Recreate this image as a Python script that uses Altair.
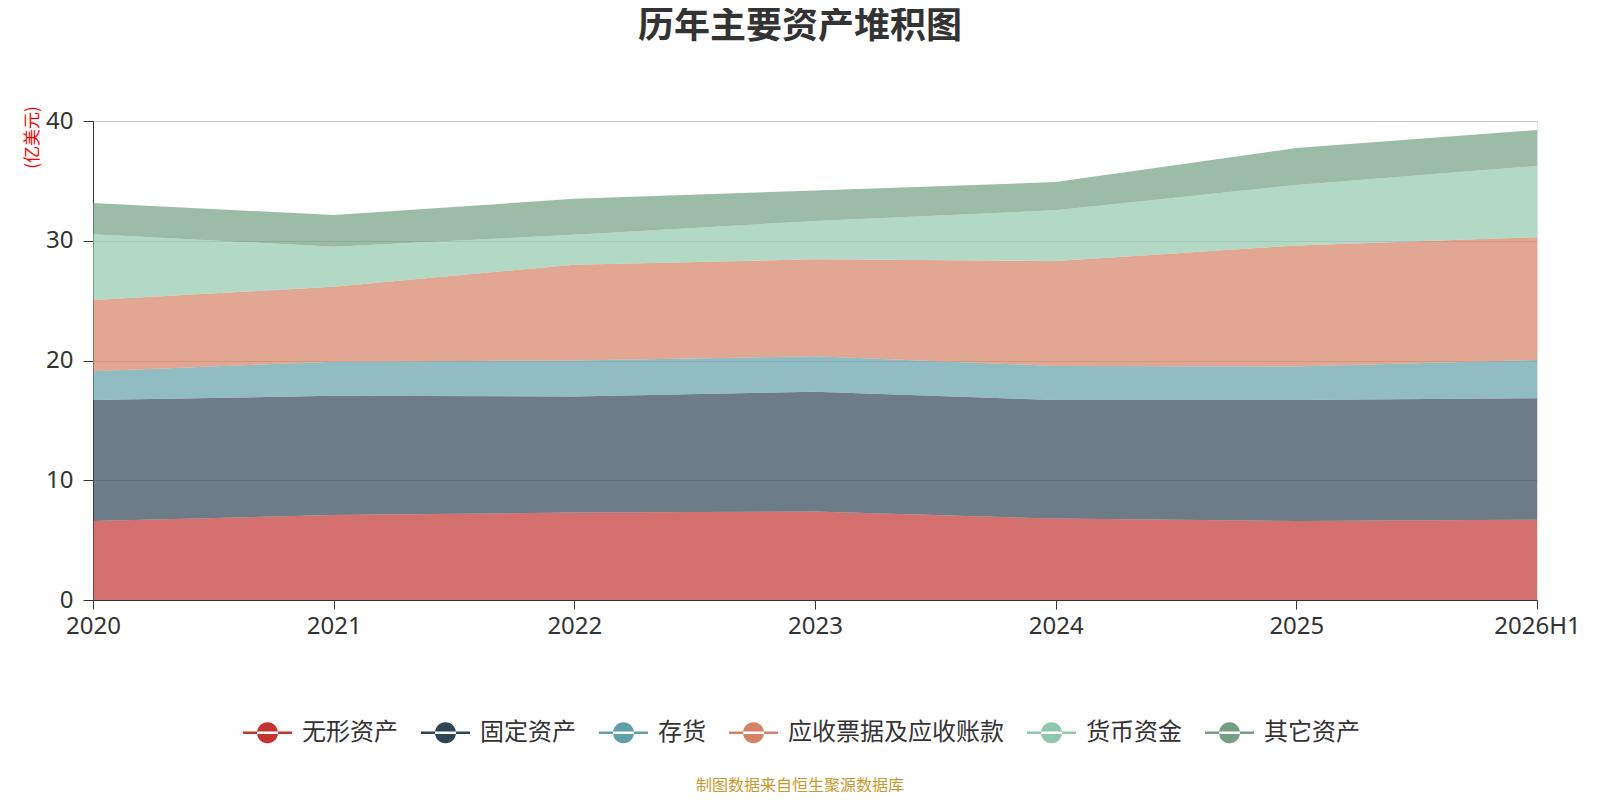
import altair as alt
import pandas as pd

YEARS = ["2020", "2021", "2022", "2023", "2024", "2025", "2026H1"]
SERIES = ["无形资产", "固定资产", "存货", "应收票据及应收账款", "货币资金", "其它资产"]
COLORS = ["#c23531", "#2f4554", "#61a0a8", "#d48265", "#91c7ae", "#749f83"]

INTANGIBLE = [6.6, 7.1, 7.3, 7.4, 6.8, 6.6, 6.7]
FIXED = [10.1, 9.95, 9.7, 10.0, 9.9, 10.1, 10.15]
INVENTORY = [2.4, 2.85, 3.0, 2.95, 2.85, 2.8, 3.2]
RECEIVABLE = [5.95, 6.25, 8.0, 8.1, 8.75, 10.1, 10.25]
CASH = [5.5, 3.35, 2.5, 3.2, 4.25, 5.05, 5.95]
OTHER = [2.6, 2.65, 3.0, 2.55, 2.35, 3.1, 3.0]

TITLE = "历年主要资产堆积图"
UNIT = "(亿美元)"
SOURCE = ["制图数据来自恒生聚源数据库"]

values = [INTANGIBLE, FIXED, INVENTORY, RECEIVABLE, CASH, OTHER]
rows = []
for si, (name, vals) in enumerate(zip(SERIES, values)):
    for year, v in zip(YEARS, vals):
        rows.append({"year": year, "series": name, "value": v, "order": si})
df = pd.DataFrame(rows)

FONT = "Noto Sans CJK SC"
NUMFONT = "Noto Sans"
W, H = 1444, 479

# legend symbol: circle with a horizontal line through it
SYMBOL = ("M-1,-0.05 L1,-0.05 L1,0.05 L-1,0.05 Z "
          "M-0.43,0 A0.43,0.43 0 1,0 0.43,0 A0.43,0.43 0 1,0 -0.43,0 Z")

area = alt.Chart(df).mark_area(opacity=0.7).encode(
    x=alt.X("year:N", sort=YEARS,
            scale=alt.Scale(type="point", padding=0),
            axis=alt.Axis(title=None, labelAngle=0, labelFontSize=24,
                          labelColor="#333", domainColor="#333", tickColor="#333",
                          tickSize=9, labelPadding=5, grid=False, labelFont=NUMFONT)),
    y=alt.Y("value:Q", stack="zero",
            scale=alt.Scale(domain=[0, 40], nice=False),
            axis=alt.Axis(values=[0, 10, 20, 30, 40], labelFontSize=24,
                          labelColor="#333", domainColor="#333", tickColor="#333",
                          tickSize=10, labelPadding=10, gridColor="#cccccc",
                          labelFont=NUMFONT,
                          title=UNIT, titleColor="red", titleFontSize=17,
                          titleFontWeight="normal", titleFont=FONT,
                          titleAngle=270, titleX=-61, titleY=16,
                          titleAlign="center", titleBaseline="middle")),
    color=alt.Color("series:N",
                    scale=alt.Scale(domain=SERIES, range=COLORS),
                    legend=alt.Legend(title=None, orient="none", direction="horizontal",
                                      legendX=150, legendY=587,
                                      symbolType=SYMBOL, symbolSize=2400,
                                      symbolOpacity=1, symbolStrokeWidth=0,
                                      labelFontSize=24, labelColor="#333",
                                      labelFont=FONT, labelOffset=10,
                                      columnPadding=23, labelLimit=400)),
    order=alt.Order("order:Q", sort="ascending"),
)

src = alt.Chart(pd.DataFrame({"t": SOURCE})).mark_text(
    font=FONT, fontSize=16, color="#c9982f", baseline="middle", align="center"
).encode(
    text="t:N",
    x=alt.value(707),
    y=alt.value(665),
)

chart = alt.layer(area, src).properties(
    width=W, height=H,
    title=alt.TitleParams(TITLE, fontSize=36, fontWeight="bold", color="#333",
                          font=FONT, anchor="middle", dx=-15, offset=60),
    padding={"left": 85, "top": 113, "right": 47, "bottom": 192},
    autosize=alt.AutoSizeParams(type="none"),
).configure_view(stroke=None).configure(background="white")

chart.save("out.html", embed_options={"renderer": "svg", "actions": False})
